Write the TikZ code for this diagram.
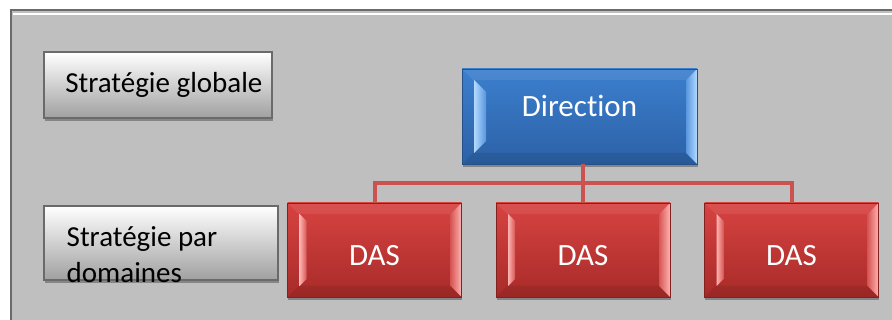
\documentclass[tikz,border=0pt]{standalone}
\usepackage{fontspec}
\setmainfont{Carlito}[Ligatures=NoCommon]
\usepackage{tikz}
\usetikzlibrary{positioning,shadows}
\definecolor{panelgray}{RGB}{191,191,191}
\definecolor{framegray}{RGB}{106,106,106}
\definecolor{linkred}{RGB}{204,82,79}
\definecolor{dirtop}{RGB}{60,127,206}
\definecolor{dirbot}{RGB}{44,97,166}
\definecolor{dirdark}{RGB}{38,80,136}
\definecolor{dastop}{RGB}{215,67,65}
\definecolor{dasbot}{RGB}{168,43,41}
\definecolor{dasdark}{RGB}{130,34,32}
\newcommand{\bigtxt}{\fontsize{31}{37}\selectfont}
\newcommand{\smalltxt}{\fontsize{29}{36}\selectfont}

\tikzset{
  bevel/.style n args={3}{path picture={
    \fill[white,opacity=0.08] (path picture bounding box.north west) -- (path picture bounding box.north east)
      -- ([xshift=-11pt,yshift=-11pt]path picture bounding box.north east) -- ([xshift=11pt,yshift=-11pt]path picture bounding box.north west) -- cycle;
    \fill[black,opacity=0.08] (path picture bounding box.south west) -- (path picture bounding box.south east)
      -- ([xshift=-11pt,yshift=11pt]path picture bounding box.south east) -- ([xshift=11pt,yshift=11pt]path picture bounding box.south west) -- cycle;
    \shade[left color=#1,right color=#2] ([xshift=12pt,yshift=-11pt]path picture bounding box.north west)
      -- ([xshift=#3,yshift=-11pt-#3+12pt]path picture bounding box.north west)
      -- ([xshift=#3,yshift=11pt+#3-12pt]path picture bounding box.south west)
      -- ([xshift=12pt,yshift=11pt]path picture bounding box.south west) -- cycle;
    \shade[left color=#2,right color=#1] (path picture bounding box.north east)
      -- ([xshift=-11pt,yshift=-11pt]path picture bounding box.north east)
      -- ([xshift=-11pt,yshift=11pt]path picture bounding box.south east)
      -- (path picture bounding box.south east) -- cycle;
  }},
  boxshadow/.style={drop shadow={shadow xshift=0.5pt,shadow yshift=-3pt,opacity=0.3,fill=black}},
  graybox/.style={draw=framegray,line width=1.8pt,top color=white,bottom color={rgb,255:red,160;green,160;blue,160},
    inner sep=0pt,boxshadow},
  dirbox/.style={draw=dirdark,line width=0.8pt,top color=dirtop,bottom color=dirbot,minimum width=235pt,
    minimum height=95pt,inner sep=0pt,boxshadow,bevel={{rgb,255:red,178;green,218;blue,255}}{{rgb,255:red,88;green,150;blue,222}}{24pt}},
  dasbox/.style={draw=dasdark,line width=0.8pt,top color=dastop,bottom color=dasbot,minimum width=174pt,
    minimum height=94pt,inner sep=0pt,boxshadow,bevel={{rgb,255:red,255;green,180;blue,178}}{{rgb,255:red,214;green,86;blue,84}}{19pt}},
  lbltext/.style={inner sep=0pt,font=\smalltxt,text=black},
  boxtext/.style={inner sep=0pt,font=\bigtxt,text=white},
  link/.style={draw=linkred,line width=4pt}
}

\begin{document}
\begin{tikzpicture}[x=1pt,y=-1pt]
\useasboundingbox (0,0) rectangle (892,320);
\clip (0,0) rectangle (892,320);
\fill[white] (0,0) rectangle (892,320);
% panel
\fill[panelgray] (11,10) rectangle (900,330);
\draw[framegray,line width=2.6pt] (11,340) -- (11,10) -- (900,10);
\draw[white,line width=1.6pt] (13,13.8) -- (900,13.8);

% left labels
\node[graybox,minimum width=228pt,minimum height=66pt] (glob) at (158,85) {};
\node[lbltext,right=22pt of glob.west] (globtxt) {Stratégie globale};
\node[graybox,minimum width=234pt,minimum height=74pt] (par) at (161,243) {};
\node[lbltext,align=left,anchor=base west] (partxt) at (66.5,283) {Stratégie par\\domaines};

% organigramme
\node[dirbox] (dir) at (579.5,116.5) {};
\node[boxtext] (dirtxt) at ([yshift=10.5pt]dir.center) {Direction};
\node[dasbox] (das1) at (374.5,250) {};
\node[dasbox] (das2) at (583,250) {};
\node[dasbox] (das3) at (791.5,250) {};
\foreach \n in {das1,das2,das3}
  \node[boxtext] at ([yshift=-6pt]\n.center) {DAS};

\coordinate (bus) at (583,183);
\draw[link] (das1.north) |- (bus) -| (das3.north);
\draw[link] (das2.north) -- (das2.north |- dir.south);
\end{tikzpicture}
\end{document}
